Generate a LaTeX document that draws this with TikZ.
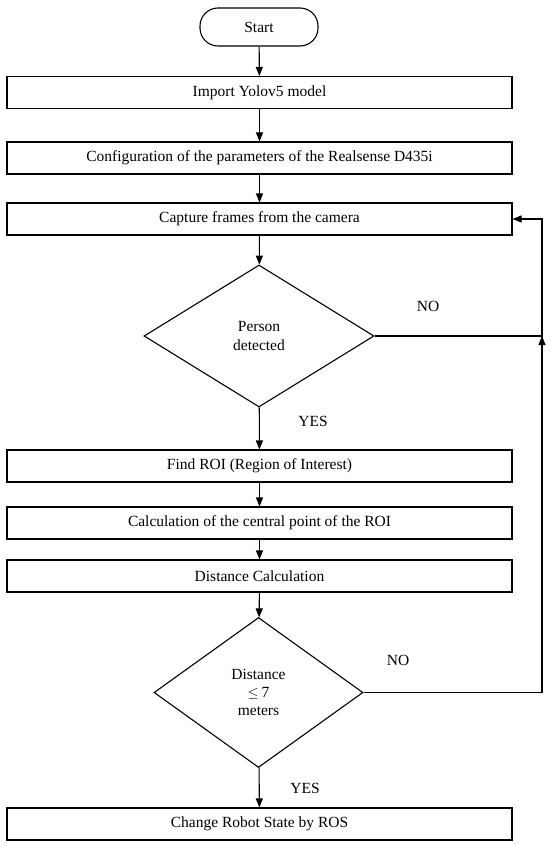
\documentclass[tikz,border=0pt]{standalone}
\usepackage{fontspec}
\setmainfont{Liberation Serif}
\usetikzlibrary{shapes.geometric,arrows.meta}
\begin{document}
\begin{tikzpicture}[x=1pt,y=-1pt,
  every node/.style={font=\rmfamily\fontsize{15.5}{18}\selectfont},
  boxnode/.style={draw, line width=1.1pt, minimum width=505pt, minimum height=32pt, inner sep=0pt},
  termnode/.style={draw, line width=1.1pt, rounded corners=18pt, minimum width=118pt, minimum height=38pt, inner sep=0pt},
  decnode/.style={draw, diamond, line width=1.1pt, inner sep=0pt, align=center},
  conn/.style={line width=1.1pt, -{Triangle[width=7pt,length=9pt]}},
  plain/.style={line width=1.1pt},
  lbl/.style={inner sep=0pt}]
\useasboundingbox (0,0) rectangle (550,845);
\node[termnode] (start) at (259,27) {Start};
\node[boxnode] (imp) at (259.5,92.5) {Import Yolov5 model};
\node[boxnode] (conf) at (259.5,158) {Configuration of the parameters of the Realsense D435i};
\node[boxnode] (cap) at (259.5,219) {Capture frames from the camera};
\node[decnode, minimum width=230pt, minimum height=142pt] (d1) at (259,336) {Person\\[1pt]detected};
\node[boxnode] (roi) at (259.5,466) {Find ROI (Region of Interest)};
\node[boxnode] (cen) at (259.5,523) {Calculation of the central point of the ROI};
\node[boxnode] (dist) at (259.5,576) {Distance Calculation};
\node[decnode, minimum width=209pt, minimum height=150pt] (d2) at (258.5,692.5) {Distance\\[0pt]$\le$\,7\\[0pt]meters};
\node[boxnode] (ros) at (259.5,824) {Change Robot State by ROS};
\node[lbl] (no1) at (428,306) {NO};
\node[lbl] (yes1) at (313,421) {YES};
\node[lbl] (no2) at (398,660) {NO};
\node[lbl] (yes2) at (305,788) {YES};
\coordinate (rtop) at (542,219);
\coordinate (rmid) at (542,336);
\coordinate (rmidb) at (542,352);
\coordinate (rbot) at (542,692.5);
\draw[conn] (start) -- (imp);
\draw[conn] (imp) -- (conf);
\draw[conn] (conf) -- (cap);
\draw[conn] (cap) -- (d1);
\draw[conn] (d1) -- (roi);
\draw[conn] (roi) -- (cen);
\draw[conn] (cen) -- (dist);
\draw[conn] (dist) -- (d2);
\draw[conn] (d2) -- (ros);
\draw[plain] (d1.east) -- (rmid);
\draw[conn] (d2.east) -- (rbot) -- (rtop) -- (cap.east);
\draw[conn] (rmidb) -- (rmid);
\end{tikzpicture}
\end{document}
